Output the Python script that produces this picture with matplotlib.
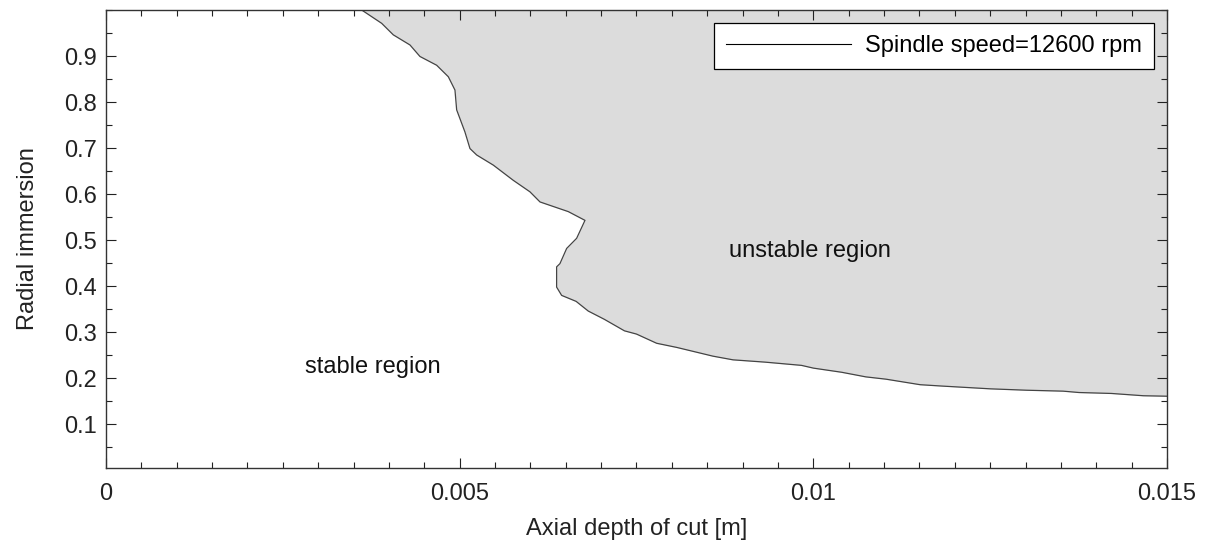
import numpy as np
import matplotlib.pyplot as plt
from matplotlib.ticker import MultipleLocator

plt.rcParams['font.family'] = ['Liberation Sans', 'DejaVu Sans']

# stability boundary (axial depth of cut [m], radial immersion)
depth = [0.003615, 0.003898, 0.004062, 0.004298, 0.004439, 0.004675, 0.004840,
         0.004934, 0.004958, 0.005075, 0.005146, 0.005241, 0.005476, 0.005758,
         0.005994, 0.006136, 0.006536, 0.006772, 0.006654, 0.006513, 0.006418,
         0.006371, 0.006371, 0.006442, 0.006647, 0.006818, 0.007046, 0.007330,
         0.007500, 0.007785, 0.008069, 0.008581, 0.008865, 0.009320, 0.009832,
         0.010002, 0.010401, 0.010742, 0.011027, 0.011510, 0.011823, 0.012505,
         0.013017, 0.013529, 0.013757, 0.014212, 0.014667, 0.015000]
immersion = [1.000, 0.971, 0.946, 0.924, 0.899, 0.880, 0.855,
             0.826, 0.783, 0.735, 0.699, 0.685, 0.663, 0.630,
             0.605, 0.583, 0.562, 0.543, 0.504, 0.482, 0.449,
             0.442, 0.398, 0.380, 0.367, 0.346, 0.328, 0.303,
             0.296, 0.276, 0.267, 0.248, 0.240, 0.235, 0.228,
             0.222, 0.213, 0.203, 0.198, 0.186, 0.183, 0.177,
             0.174, 0.172, 0.169, 0.167, 0.162, 0.161]

xmin, xmax = 0, 0.015
ymin, ymax = 0.005, 1.0
fs = 17

fig, ax = plt.subplots(figsize=(12.15, 5.49), dpi=100)
fig.subplots_adjust(left=0.0872, right=0.9605, top=0.9818, bottom=0.1475)

ax.fill_betweenx(immersion, depth, xmax, color='#dcdcdc', lw=0)
ax.plot(depth, immersion, color='#444444', lw=0.9)

# legend shows a black line
ax.plot([], [], color='black', lw=0.8, label='Spindle speed=12600 rpm')
leg = ax.legend(loc='upper right', fontsize=fs, handlelength=5.3, fancybox=False,
                framealpha=1, edgecolor='black', borderaxespad=0.55,
                borderpad=0.5, handletextpad=0.6)
leg.get_frame().set_linewidth(0.9)

ax.text(0.00995, 0.476, 'unstable region', fontsize=fs, ha='center', va='center', color='#111111')
ax.text(0.003775, 0.224, 'stable region', fontsize=fs, ha='center', va='center', color='#111111')

ax.set_xlim(xmin, xmax)
ax.set_ylim(ymin, ymax)
ax.xaxis.set_minor_locator(MultipleLocator(0.0005))
ax.yaxis.set_minor_locator(MultipleLocator(0.05))
ax.set_xticks([0, 0.005, 0.01, 0.015])
ax.set_xticklabels(['0', '0.005', '0.01', '0.015'])
ax.set_yticks(np.arange(0.1, 0.95, 0.1))
ax.set_yticklabels([f'{v:.1f}' for v in np.arange(0.1, 0.95, 0.1)])

ax.tick_params(which='both', direction='in', top=True, right=True, colors='#222222',
               labelsize=fs, labelcolor='#222222')
ax.tick_params(which='major', length=7, width=0.8)
ax.tick_params(which='minor', length=4, width=0.8)
ax.tick_params(axis='x', pad=11)
ax.tick_params(axis='y', pad=6.5)
for s in ax.spines.values():
    s.set_color('#333333')
    s.set_linewidth(1.0)

ax.set_xlabel('Axial depth of cut [m]', fontsize=fs, color='#222222', labelpad=9)
ax.set_ylabel('Radial immersion', fontsize=fs, color='#222222', labelpad=18)

fig.savefig('out.png', dpi=100)
